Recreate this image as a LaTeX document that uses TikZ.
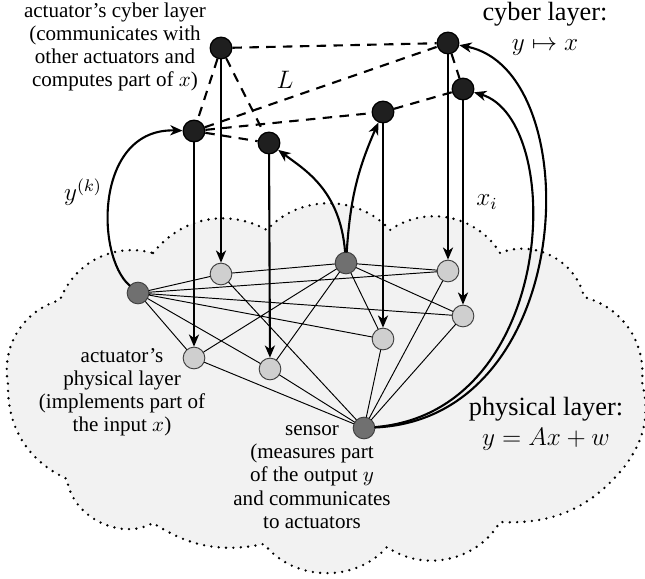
\documentclass[tikz,border=0pt]{standalone}
\usepackage{amsmath}
\usepackage{fontspec}
\setmainfont{Liberation Serif}
\usetikzlibrary{arrows.meta}
\tikzset{
  every picture/.style={
    line join=round,
    line cap=round,
    >={Stealth[length=5.8pt,width=4.8pt,inset=1.7pt]},
  },
  cyber/.style={circle,draw=black,line width=0.6pt,fill=black!88,inner sep=0pt,minimum size=10.3pt},
  phys/.style={circle,draw=black!75,line width=0.45pt,fill=black!19,inner sep=0pt,minimum size=10.3pt},
  hub/.style={phys,fill=black!56},
  link/.style={line width=1pt,dash pattern=on 4.5pt off 3.5pt,line cap=butt},
  wire/.style={line width=0.45pt},
  feed/.style={->,line width=1pt},
  puffs/.style={line width=1.25pt,dash pattern=on 0pt off 3.5pt,fill=black!5},
  note/.style={align=center,font=\fontsize{10}{11}\selectfont},
  title/.style={align=center,font=\fontsize{12.5}{14.5}\selectfont},
  sym/.style={font=\fontsize{12}{14}\selectfont},
}

\begin{document}
\begin{tikzpicture}[x=0.475pt,y=0.475pt]
\useasboundingbox (0,0) rectangle (645,578);
% the physical layer: one dotted cloud, puff by puff (clockwise)
\draw[puffs](153,325)to[bend left=40](267,348)to[bend left=48](390,348)
  to[bend left=47](500,325)to[bend left=50](584,281)to[bend left=40](642,196)
  to[bend left=25](625,112)to[bend left=27](500,56)to[bend left=47](387,31)
  to[bend left=50](264,34)to[bend left=22](153,55)to[bend left=56](67,99)
  to[bend left=33](8,194)to[bend left=42](60,278)to[bend left=42](153,325)--cycle;

% cyber nodes
\node[cyber](c1)at(221,530){};
\node[cyber](c2)at(448,535){};
\node[cyber](c3)at(194,447){};
\node[cyber](c4)at(269,435){};
\node[cyber](c5)at(383,466){};
\node[cyber](c6)at(463,489){};
% physical nodes, the dark ones are sensors
\node[hub](p1)at(138,285){};
\node[phys](p2)at(221,304){};
\node[phys](p3)at(194,220){};
\node[phys](p4)at(270,209){};
\node[hub](p5)at(346,315){};
\node[phys](p6)at(448,307){};
\node[phys](p7)at(383,239){};
\node[phys](p8)at(463,262){};
\node[hub](s)at(364,150){};

% coupling through the plant
\draw[wire](p1)--(p2) (p1)--(p3) (p1)--(p4) (p1)--(p6) (p1)--(p7) (p1)--(p8)
  (p2)--(p5) (p2)--(s) (p3)--(p5) (p3)--(s) (p4)--(p5) (p4)--(s)
  (p5)--(p6) (p5)--(p7) (p5)--(p8) (p6)--(s) (p7)--(s) (p8)--(s);

% communication graph L between the actuators
\draw[link](c1)--(c2) (c1)--(c3) (c1)--(c4) (c3)--(c2) (c3)--(c5) (c3)--(c4)
  (c5)--(c6) (c2)--(c6);

% each cyber node drives its own actuator
\draw[feed](c1)--(p2);
\draw[feed](c3)--(p3);
\draw[feed](c4)--(p4);
\draw[feed](c5)--(p7);
\draw[feed](c2)--(p6);
\draw[feed](c6)--(p8);

% measurements sent up to the actuators
\draw[feed](p1)..controls(95,323)and(95,450)..(c3);
\draw[feed](p5)..controls(340,388)and(305,408)..(c4);
\draw[feed](p5)to[bend left=10](c5);
\draw[feed](s)..controls(580,160)and(588,508)..(c2);
\draw[feed](s)..controls(558,166)and(566,458)..(c6);

\node[sym](lbL)at(285,498){$L$};
\node[sym](lbyk)at(83,386){$y^{(k)}$};
\node[sym](lbxi)at(487,376){$x_i$};

\node[note](actcy)at(115,531){actuator's cyber layer\\(communicates with\\other actuators and\\computes part of $x$)};
\node[title](cyt)at(545,549){cyber layer:\\$y\mapsto x$};
\node[note](actph)at(122,186){actuator's\\physical layer\\(implements part of\\the input $x$)};
\node[note](sens)at(312,101){sensor\\(measures part\\of the output $y$\\and communicates\\to actuators};
\node[title](pht)at(546,154){physical layer:\\$y=Ax+w$};
\end{tikzpicture}
\end{document}
